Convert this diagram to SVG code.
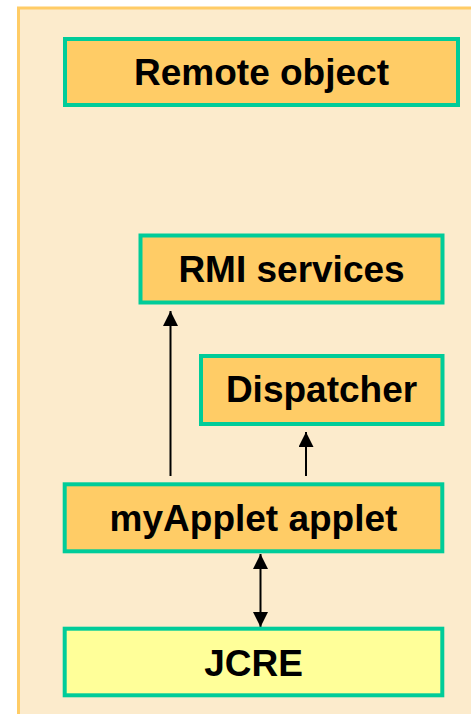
<svg xmlns="http://www.w3.org/2000/svg" width="471" height="714" viewBox="0 0 471 714">
<defs>
<style>
.box{stroke:#00CC99;stroke-width:4}
.org{fill:#FFCC66}
.yel{fill:#FFFF99}
.lbl{font-family:"Liberation Sans",Arial,sans-serif;font-weight:bold;font-size:37px;fill:#000;text-anchor:middle}
.conn{stroke:#000;stroke-width:2;fill:none}
</style>
<marker id="ah" viewBox="0 0 15 15" markerWidth="15" markerHeight="15" refX="15" refY="7.5" orient="auto" markerUnits="userSpaceOnUse">
<path d="M0,0 L15,7.5 L0,15 Z" fill="#000"/>
</marker>
</defs>
<rect x="0" y="0" width="471" height="714" fill="#FFFFFF"/>
<rect id="container" x="18.5" y="8" width="470" height="720" fill="#FCEBCC" stroke="#FFCC66" stroke-width="3"/>
<g id="connectors">
<line class="conn" x1="170.5" y1="476" x2="170.5" y2="311" marker-end="url(#ah)"/>
<line class="conn" x1="306" y1="476" x2="306" y2="432" marker-end="url(#ah)"/>
<line class="conn" x1="260.5" y1="590" x2="260.5" y2="554" marker-end="url(#ah)"/>
<line class="conn" x1="260.5" y1="590" x2="260.5" y2="627" marker-end="url(#ah)"/>
</g>
<g id="remote-object">
<rect class="box org" x="65" y="39" width="393" height="66"/>
<text class="lbl" x="261.5" y="85">Remote object</text>
</g>
<g id="rmi-services">
<rect class="box org" x="140.5" y="235.5" width="302" height="67"/>
<text class="lbl" x="291.5" y="282">RMI services</text>
</g>
<g id="dispatcher">
<rect class="box org" x="201" y="356" width="241.5" height="68"/>
<text class="lbl" x="321.5" y="402">Dispatcher</text>
</g>
<g id="myapplet">
<rect class="box org" x="64.7" y="484.3" width="377.6" height="67"/>
<text class="lbl" x="253.5" y="531">myApplet applet</text>
</g>
<g id="jcre">
<rect class="box yel" x="64.7" y="628.7" width="377.6" height="66.6"/>
<text class="lbl" x="253.5" y="675.5">JCRE</text>
</g>
</svg>
